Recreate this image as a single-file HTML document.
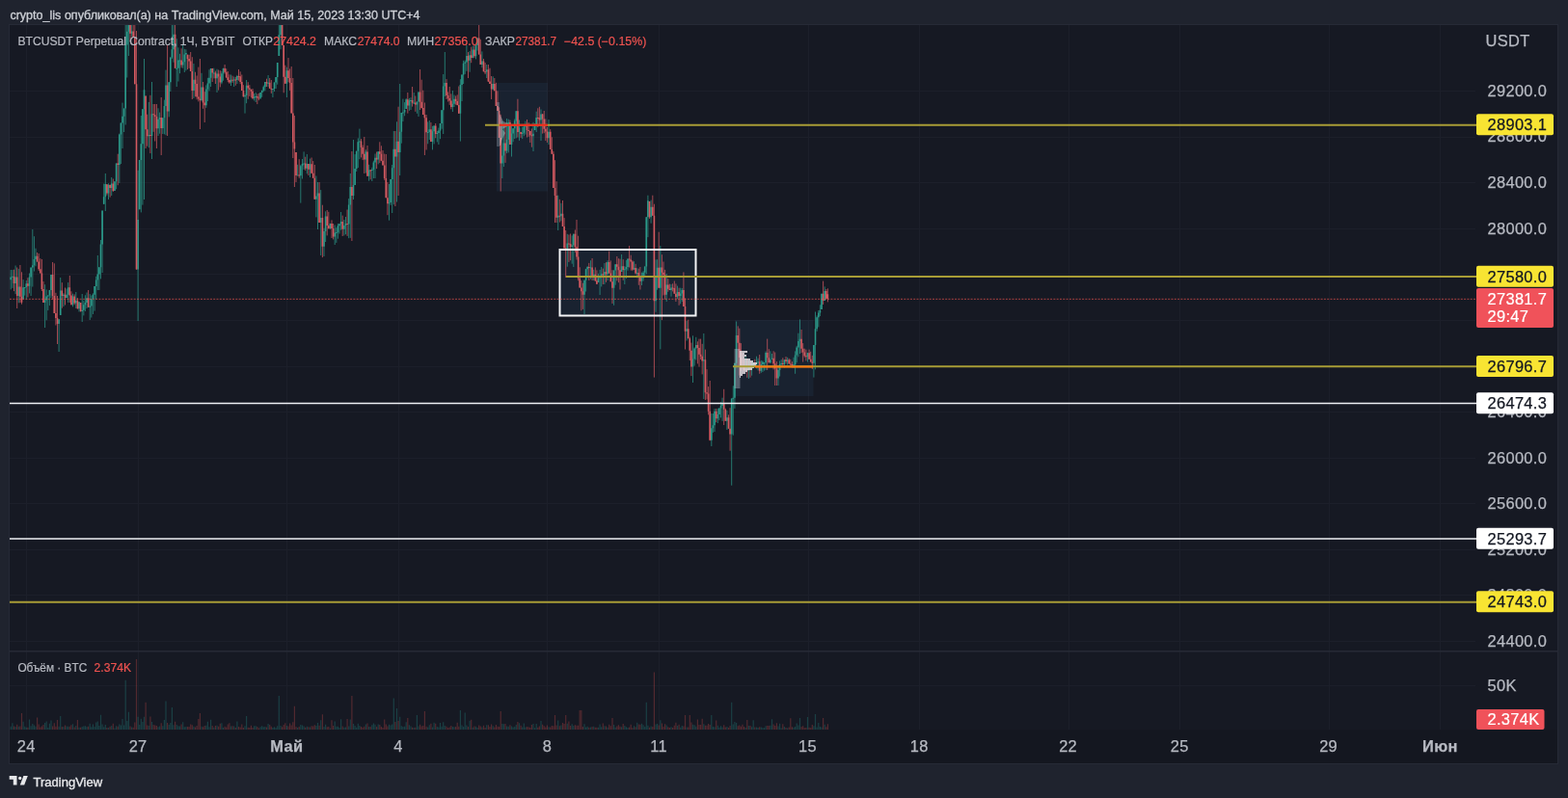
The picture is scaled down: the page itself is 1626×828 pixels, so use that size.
<!DOCTYPE html><html><head><meta charset="utf-8"><title>BTCUSDT</title><style>html,body{margin:0;padding:0;width:1626px;height:828px;overflow:hidden;background:#1f232e}svg{display:block}</style></head><body><svg width="1626" height="828" viewBox="0 0 1626 828"><rect x="0" y="0" width="1626" height="828" fill="#1f232e"/>
<rect x="9.5" y="25.5" width="1606" height="767" fill="#161923" stroke="#262a36"/>
<rect x="10" y="757.5" width="1605" height="34.5" fill="#141720"/>
<path d="M10 94.5H1530M10 142.5H1530M10 189.5H1530M10 237.5H1530M10 284.5H1530M10 332.5H1530M10 380.5H1530M10 427.5H1530M10 475.5H1530M10 522.5H1530M10 570.5H1530M10 617.5H1530M10 665.5H1530M27.5 26V757M143.5 26V757M297.5 26V757M413.5 26V757M567.5 26V757M683.5 26V757M838.5 26V757M953.5 26V757M1108.5 26V757M1223.5 26V757M1378.5 26V757M1493.5 26V757M10 711.5H1530" stroke="#1c1f2a" stroke-width="1"/>
<path d="M10 675.8H1615" stroke="#262a36" stroke-width="1.5"/>
<rect x="515" y="86" width="53" height="112.5" fill="#3f7aa8" fill-opacity="0.10"/><rect x="762" y="332" width="81.5" height="79" fill="#3f7aa8" fill-opacity="0.10"/><rect x="580.5" y="259" width="141" height="68.5" fill="#3f7aa8" fill-opacity="0.10"/>
<clipPath id="cp"><rect x="10" y="26" width="1510" height="649"/></clipPath>
<g clip-path="url(#cp)"><path d="M11.2 280.0V300.4M12.9 280.0V298.9M16.1 275.5V305.1M19.3 278.9V314.3M24.1 290.1V310.4M25.7 298.1V306.6M27.3 291.0V310.7M30.5 283.5V304.4M32.1 277.6V307.0M33.8 238.0V297.5M35.4 245.2V281.5M37.0 257.7V276.3M46.6 295.2V340.0M48.2 300.5V332.3M49.8 306.4V322.1M51.4 300.9V317.1M53.0 285.1V309.1M61.1 331.3V365.0M62.7 288.0V327.0M65.9 304.2V318.1M69.1 299.5V309.3M70.7 293.1V314.0M75.5 304.7V318.3M78.8 303.0V320.0M82.0 313.2V323.5M85.2 305.0V334.0M86.8 311.8V327.4M88.4 306.3V323.0M90.0 303.5V320.1M93.2 305.1V332.0M94.8 306.6V329.5M96.4 304.3V326.0M98.1 297.0V322.6M99.7 286.8V310.5M101.3 265.0V301.0M102.9 277.3V301.0M104.5 249.0V289.4M106.1 218.6V283.0M107.7 190.6V211.8M109.3 180.0V219.0M112.5 190.3V207.0M115.7 184.0V203.0M118.9 188.3V197.9M120.6 169.5V196.3M123.8 138.6V190.0M125.4 127.6V170.0M127.0 106.6V154.0M128.6 112.5V137.0M130.2 20.0V129.5M131.8 20.0V80.5M133.4 20.0V58.0M136.6 23.9V37.8M143.1 176.8V333.0M144.7 166.0V217.3M146.3 120.0V220.4M147.9 113.2V212.6M149.5 61.0V207.0M154.3 105.9V153.2M157.5 85.0V165.0M164.0 112.3V141.0M165.6 116.6V138.7M168.8 122.3V139.0M170.4 103.6V139.3M172.0 72.6V140.3M175.2 85.3V121.4M176.8 59.5V95.0M178.4 20.0V60.9M180.0 20.0V64.7M183.2 40.1V90.0M184.9 49.3V84.5M186.5 55.8V76.2M189.7 47.0V70.7M191.3 50.8V75.0M192.9 51.3V73.3M200.9 66.0V102.0M209.0 75.8V105.2M213.8 88.4V111.9M215.4 80.8V105.0M217.0 72.3V94.4M218.6 71.0V90.0M221.8 70.7V81.4M225.0 71.7V96.0M229.9 73.9V87.3M231.5 70.6V83.7M239.5 77.5V89.0M242.7 79.6V90.0M245.9 77.9V87.0M254.0 97.3V117.6M255.6 83.0V107.2M263.6 97.1V104.4M265.2 96.0V106.0M270.1 95.9V103.0M271.7 93.8V100.8M273.3 88.6V95.3M274.9 85.0V94.3M278.1 78.0V90.2M282.9 92.0V101.0M284.5 85.5V95.0M286.1 80.0V92.0M287.7 65.0V87.7M289.3 20.0V58.0M291.0 20.0V51.2M297.4 69.7V101.0M308.6 170.8V181.7M311.8 170.9V210.6M313.5 165.0V185.5M315.1 157.4V176.0M318.3 160.0V180.3M321.5 164.6V184.0M327.9 182.5V225.4M329.5 189.0V238.0M332.7 197.1V265.0M336.0 236.7V266.0M337.6 219.3V251.0M342.4 231.7V237.7M347.2 233.5V254.0M348.8 236.2V251.9M350.4 232.0V247.7M352.0 232.3V242.5M353.6 220.0V238.7M356.9 228.0V244.4M358.5 225.0V243.2M361.7 206.1V247.2M363.3 180.0V246.9M366.5 145.0V207.0M368.1 160.1V191.9M369.7 156.7V178.0M371.3 143.4V174.0M372.9 133.6V165.2M379.4 155.3V179.5M382.6 170.8V187.7M385.8 173.8V188.0M387.4 166.7V185.0M389.0 159.5V185.0M392.2 157.3V170.4M403.5 191.0V228.7M405.1 185.9V212.8M406.7 171.0V221.0M408.3 136.0V212.2M411.5 126.3V209.5M414.7 87.0V182.1M416.3 116.9V148.7M417.9 102.6V126.1M419.6 106.1V120.3M421.2 102.1V113.0M424.4 101.9V114.9M426.0 101.2V114.0M429.2 96.0V107.9M432.4 105.6V117.8M434.0 95.5V121.0M443.7 126.4V149.3M445.3 125.0V145.0M448.5 130.8V155.4M450.1 130.3V149.4M453.3 135.9V147.4M454.9 132.6V150.0M456.5 128.0V144.2M458.1 114.3V133.7M459.7 77.0V139.0M461.3 54.0V100.0M469.4 94.0V116.0M471.0 98.5V111.1M477.4 82.2V146.6M479.0 77.4V105.0M480.6 62.8V87.0M482.2 62.6V76.9M483.9 47.0V73.8M487.1 53.1V74.7M490.3 47.7V60.4M493.5 47.0V61.4M495.1 39.3V52.5M499.9 53.4V70.2M504.7 67.0V81.0M511.2 79.3V93.5M520.8 125.8V185.0M522.4 129.2V173.0M525.6 123.0V159.1M527.3 123.7V158.4M530.5 130.5V162.5M532.1 133.3V147.2M533.7 123.5V144.0M535.3 115.2V143.3M538.5 124.5V145.9M541.7 131.7V144.1M543.3 129.5V141.2M544.9 125.7V139.6M553.0 126.8V157.0M554.6 128.1V135.1M556.2 115.7V137.0M561.0 113.5V146.0M569.0 124.0V150.1M578.7 202.7V239.0M581.9 210.8V229.3M588.3 242.8V276.7M593.2 244.4V273.7M594.8 242.6V277.0M606.0 290.7V326.0M607.6 278.8V302.5M609.2 276.2V288.4M612.5 270.2V289.6M615.7 279.8V291.0M620.5 283.8V293.0M622.1 279.9V306.0M623.7 277.0V297.4M626.9 273.0V295.0M630.1 270.2V291.0M636.6 280.6V316.8M638.2 274.3V295.7M644.6 264.0V281.9M647.8 276.2V295.0M649.4 269.9V289.0M651.0 268.6V280.7M657.5 271.2V279.7M660.7 278.3V288.3M665.5 282.7V296.0M667.1 281.1V291.6M668.7 276.5V288.0M670.3 225.3V284.4M671.9 202.7V246.1M675.1 207.6V231.7M680.0 269.4V323.8M681.6 269.2V300.7M684.8 255.1V362.4M691.2 284.0V313.0M696.0 294.9V307.7M702.5 296.6V310.2M705.7 298.7V315.3M707.3 299.0V313.0M712.1 332.8V353.5M718.5 348.3V397.0M720.2 360.4V379.6M721.8 349.8V373.5M729.8 346.0V414.0M737.8 429.0V463.0M739.4 429.0V448.8M741.0 424.0V448.0M744.3 423.8V439.0M745.9 423.4V436.1M747.5 417.2V433.4M749.1 412.7V436.9M753.9 425.8V446.0M758.7 413.5V503.7M760.3 400.3V451.7M761.9 376.8V423.9M763.6 333.5V381.4M773.2 369.7V383.3M776.4 373.3V393.0M779.6 375.0V389.7M781.2 376.5V380.6M784.5 369.7V382.4M786.1 371.7V384.4M789.3 373.9V386.8M790.9 374.3V386.0M792.5 376.2V384.6M794.1 364.4V384.0M798.9 364.3V377.0M800.5 367.0V372.4M807.0 379.6V400.0M808.6 374.4V390.6M810.2 373.1V380.1M813.4 373.3V381.4M816.6 370.8V378.6M823.0 370.8V381.9M824.6 364.4V387.8M826.2 358.8V376.2M827.9 345.7V370.3M829.5 331.4V367.0M837.5 365.9V375.6M843.9 358.1V391.6M845.5 323.5V383.3M847.1 327.4V343.8M848.8 322.0V339.4M850.4 316.3V328.1M852.0 304.8V321.0M855.2 297.4V312.0" stroke="#2b9a8a" stroke-width="1" stroke-opacity="0.75"/>
<path d="M14.5 279.7V302.1M17.7 277.5V320.0M20.9 275.0V314.2M22.5 282.3V315.7M28.9 288.2V308.5M38.6 262.0V271.6M40.2 263.0V281.1M41.8 268.2V283.4M43.4 269.0V302.0M45.0 292.0V314.0M54.6 272.0V310.6M56.3 273.3V325.0M57.9 303.8V337.5M59.5 307.0V357.0M64.3 293.2V319.7M67.5 298.5V316.5M72.3 286.0V314.0M73.9 302.3V316.3M77.2 305.4V316.3M80.4 309.1V320.6M83.6 314.1V323.6M91.6 301.0V318.7M110.9 191.2V202.6M114.1 191.4V204.7M117.3 185.5V199.0M122.2 159.7V192.2M135.0 20.0V43.4M138.2 20.0V39.0M139.8 20.0V87.3M141.5 32.0V279.6M151.1 99.6V154.0M152.7 118.7V151.7M155.9 98.8V159.1M159.1 108.0V136.8M160.7 108.0V146.5M162.4 108.0V154.0M167.2 101.0V161.0M173.6 47.0V141.0M181.6 24.5V70.7M188.1 50.3V70.3M194.5 56.7V72.1M196.1 56.8V70.9M197.7 54.0V74.0M199.3 59.2V103.0M202.5 74.7V100.3M204.1 78.5V103.3M205.8 69.6V105.4M207.4 61.0V134.0M210.6 85.0V112.8M212.2 95.2V127.0M220.2 70.9V85.0M223.4 73.6V87.0M226.6 72.5V93.6M228.3 73.2V90.4M233.1 67.0V76.5M234.7 71.2V81.0M236.3 74.0V85.3M237.9 77.3V86.9M241.1 78.6V85.8M244.3 79.8V88.7M247.5 72.0V83.7M249.2 74.3V87.2M250.8 77.5V94.0M252.4 88.2V100.7M257.2 85.2V102.8M258.8 88.2V99.9M260.4 92.8V101.3M262.0 92.0V103.2M266.8 97.5V108.1M268.4 96.8V104.2M276.5 81.7V90.0M279.7 81.0V91.8M281.3 83.0V96.9M292.6 20.0V47.0M294.2 47.0V96.3M295.8 67.7V86.8M299.0 60.0V85.1M300.6 71.4V93.9M302.2 69.0V117.4M303.8 81.0V164.0M305.4 120.0V194.0M307.0 158.0V189.0M310.2 165.2V184.8M316.7 162.7V176.9M319.9 170.1V182.0M323.1 163.5V180.2M324.7 167.1V184.7M326.3 171.0V206.7M331.1 189.0V230.9M334.4 212.7V267.1M339.2 218.0V244.4M340.8 219.8V237.2M344.0 228.4V247.0M345.6 232.0V248.4M355.2 223.6V245.0M360.1 217.5V244.9M364.9 157.0V250.0M374.5 144.1V163.4M376.1 150.6V166.1M377.8 142.0V180.0M381.0 151.0V182.7M384.2 176.0V186.3M390.6 157.5V175.1M393.8 147.3V169.1M395.4 151.3V167.2M397.0 156.0V171.4M398.7 159.6V186.9M400.3 160.0V205.2M401.9 189.0V223.2M409.9 136.0V214.0M413.1 110.7V203.0M422.8 96.0V117.6M427.6 90.0V110.6M430.8 99.5V115.8M435.6 72.0V114.0M437.2 82.7V112.6M438.8 93.7V119.0M440.4 106.5V161.0M442.1 119.0V155.5M446.9 127.0V147.1M451.7 128.0V143.3M463.0 82.1V103.0M464.6 95.4V105.5M466.2 90.0V108.9M467.8 97.4V113.3M472.6 99.5V108.6M474.2 98.4V109.4M475.8 89.5V117.8M485.5 54.1V81.0M488.7 48.7V65.2M491.9 47.0V60.2M496.7 20.0V56.5M498.3 40.9V67.0M501.5 61.0V74.3M503.1 65.0V77.1M506.4 67.0V85.0M508.0 70.7V86.9M509.6 79.0V103.0M512.8 81.0V94.2M514.4 85.8V110.0M516.0 94.4V114.9M517.6 111.3V143.0M519.2 118.8V198.5M524.0 128.5V168.9M528.9 124.6V150.0M536.9 102.7V142.5M540.1 136.9V142.9M546.5 124.0V142.5M548.2 127.0V141.9M549.8 135.7V148.0M551.4 133.5V152.7M557.8 112.3V132.1M559.4 110.8V130.2M562.6 118.0V138.6M564.2 115.0V138.2M565.8 123.4V146.0M567.4 132.0V147.9M570.7 134.1V155.0M572.3 142.3V159.8M573.9 157.1V195.0M575.5 166.2V231.0M577.1 188.2V231.1M580.3 206.8V230.6M583.5 208.0V235.0M585.1 226.1V257.5M586.7 239.0V288.0M589.9 243.5V271.9M591.6 242.5V270.2M596.4 238.5V261.8M598.0 228.0V269.5M599.6 244.7V291.2M601.2 277.3V298.5M602.8 291.0V322.3M604.4 293.7V320.9M610.8 272.9V291.0M614.1 268.0V291.0M617.3 277.4V292.0M618.9 280.4V295.0M625.3 278.6V295.0M628.5 272.2V292.8M631.7 260.6V283.5M633.3 270.4V292.3M635.0 280.2V315.0M639.8 266.0V291.3M641.4 268.2V293.2M643.0 268.6V300.5M646.2 269.2V290.8M652.6 255.0V277.5M654.2 264.7V280.6M655.9 270.2V281.1M659.1 273.8V284.7M662.3 278.7V295.8M663.9 277.0V300.5M673.5 208.9V226.9M676.8 202.7V223.7M678.4 211.7V391.6M683.2 240.7V298.7M686.4 264.2V332.1M688.0 271.5V306.5M689.6 279.9V310.7M692.8 289.2V302.8M694.4 294.6V300.9M697.6 294.3V302.4M699.3 291.5V304.7M700.9 294.4V313.0M704.1 298.7V316.8M708.9 282.4V318.0M710.5 309.4V362.5M713.7 331.7V351.2M715.3 349.7V374.1M716.9 355.6V390.1M723.4 354.3V377.4M725.0 351.6V380.6M726.6 351.6V373.0M728.2 356.8V388.4M731.4 362.6V415.0M733.0 383.2V414.4M734.6 401.1V430.4M736.2 395.0V457.3M742.7 424.0V438.2M750.7 403.8V441.0M752.3 423.7V436.7M755.5 430.4V444.7M757.1 423.2V467.7M765.2 338.4V379.7M766.8 340.7V389.6M768.4 356.1V384.8M770.0 366.3V382.8M771.6 372.5V384.3M774.8 372.0V391.8M778.0 373.9V391.7M782.8 372.7V380.9M787.7 368.0V387.8M795.7 351.6V384.0M797.3 362.2V376.3M802.1 364.3V383.4M803.7 365.5V400.0M805.4 375.1V400.0M811.8 371.3V379.7M815.0 370.0V377.2M818.2 371.9V377.4M819.8 372.8V378.7M821.4 375.2V381.4M831.1 342.0V366.2M832.7 356.1V375.6M834.3 361.7V370.7M835.9 362.6V374.4M839.1 362.6V372.9M840.7 364.8V375.6M842.3 368.9V383.0M853.6 291.6V316.0M856.8 300.0V310.6M858.4 299.3V313.4" stroke="#d45a61" stroke-width="1" stroke-opacity="0.75"/>
<path d="M11.2 287.6V290.2M12.9 286.8V287.8M16.1 287.5V294.1M19.3 297.4V307.1M24.1 298.3V310.4M25.7 298.1V299.1M27.3 294.2V298.1M30.5 287.4V296.8M32.1 277.6V287.4M33.8 275.3V277.6M35.4 269.0V275.3M37.0 265.8V269.0M46.6 311.5V314.0M48.2 307.5V311.5M49.8 306.4V307.5M51.4 300.9V306.4M53.0 285.1V300.9M61.1 331.3V336.0M62.7 301.5V327.0M65.9 305.7V306.9M69.1 305.7V308.9M70.7 298.3V305.7M75.5 307.5V316.3M78.8 311.7V314.4M82.0 313.2V320.2M85.2 321.7V323.1M86.8 316.2V321.7M88.4 314.0V316.2M90.0 309.2V314.0M93.2 317.6V318.7M94.8 310.1V317.6M96.4 305.8V310.1M98.1 297.0V305.8M99.7 290.5V297.0M101.3 284.4V290.5M102.9 277.3V284.4M104.5 253.6V277.3M106.1 218.6V253.6M107.7 204.3V211.8M109.3 190.9V204.3M112.5 192.0V200.6M115.7 190.4V194.9M118.9 188.3V197.9M120.6 169.5V188.3M123.8 139.5V171.0M125.4 127.6V139.5M127.0 120.7V127.6M128.6 112.5V120.7M130.2 46.4V112.5M131.8 32.8V46.4M133.4 21.1V32.8M136.6 32.5V34.8M143.1 227.9V279.6M144.7 166.0V217.3M146.3 149.2V166.0M147.9 113.2V149.2M149.5 93.3V113.2M154.3 140.1V141.2M157.5 118.3V141.0M164.0 123.7V133.3M165.6 122.0V123.7M168.8 122.3V132.9M170.4 109.9V122.3M172.0 88.5V109.9M175.2 85.3V115.4M176.8 59.5V85.3M178.4 51.2V59.5M180.0 35.8V51.2M183.2 70.7V71.7M184.9 62.5V70.7M186.5 62.4V63.4M189.7 64.2V67.4M191.3 56.5V64.2M192.9 55.0V56.5M200.9 82.7V94.0M209.0 90.5V104.0M213.8 92.4V109.2M215.4 86.5V92.4M217.0 80.8V86.5M218.6 71.0V80.8M221.8 75.6V76.6M225.0 76.6V81.2M229.9 76.2V85.5M231.5 71.0V76.2M239.5 82.7V85.4M242.7 82.6V83.6M245.9 78.9V82.9M254.0 99.1V100.3M255.6 88.7V99.1M263.6 100.6V102.0M265.2 100.1V101.1M270.1 95.9V101.8M271.7 93.8V95.9M273.3 90.3V93.8M274.9 85.0V90.3M278.1 85.7V86.7M282.9 92.0V93.0M284.5 85.5V92.0M286.1 80.0V85.5M287.7 65.0V80.0M289.3 36.3V58.0M291.0 25.8V36.3M297.4 73.2V86.8M308.6 181.6V182.6M311.8 172.2V182.3M313.5 169.9V172.2M315.1 169.4V170.4M318.3 169.9V174.8M321.5 170.2V175.8M327.9 203.6V206.7M329.5 200.6V203.6M332.7 226.0V230.9M336.0 240.0V255.8M337.6 224.4V240.0M342.4 231.9V237.2M347.2 241.4V245.5M348.8 240.9V241.9M350.4 234.3V240.9M352.0 232.3V234.3M353.6 230.0V232.3M356.9 234.1V237.7M358.5 232.0V234.1M361.7 212.5V232.4M363.3 194.0V212.5M366.5 192.1V203.0M368.1 175.1V191.9M369.7 156.7V175.1M371.3 147.2V156.7M372.9 146.6V147.6M379.4 157.4V165.5M382.6 176.6V182.7M385.8 176.1V177.1M387.4 168.5V176.1M389.0 163.7V168.5M392.2 157.3V165.5M403.5 209.9V211.3M405.1 185.9V209.9M406.7 174.2V185.9M408.3 154.7V174.2M411.5 146.8V162.6M414.7 136.7V158.1M416.3 116.9V136.7M417.9 116.5V117.5M419.6 113.9V116.5M421.2 103.3V113.0M424.4 104.3V109.4M426.0 103.9V104.9M429.2 106.4V107.4M432.4 105.6V108.5M434.0 95.5V105.6M443.7 137.0V138.0M445.3 134.2V137.0M448.5 136.3V147.0M450.1 130.5V136.3M453.3 137.9V138.9M454.9 135.6V137.9M456.5 128.0V135.6M458.1 114.3V128.0M459.7 89.5V114.3M461.3 85.9V89.5M469.4 107.8V110.9M471.0 102.7V107.8M477.4 88.0V117.8M479.0 77.4V88.0M480.6 65.7V77.4M482.2 64.4V65.7M483.9 58.0V64.4M487.1 57.2V62.7M490.3 51.5V59.9M493.5 47.0V58.2M495.1 39.6V47.0M499.9 63.5V67.0M504.7 72.2V74.6M511.2 86.9V92.5M520.8 161.5V169.5M522.4 148.6V161.5M525.6 144.8V156.4M527.3 127.1V144.8M530.5 138.5V150.0M532.1 133.3V138.5M533.7 125.4V133.3M535.3 115.2V125.4M538.5 132.4V137.1M541.7 137.7V139.1M543.3 131.4V137.7M544.9 129.8V131.4M553.0 138.8V141.3M554.6 130.1V135.1M556.2 122.1V130.1M561.0 118.6V124.6M569.0 136.8V143.2M578.7 223.7V225.7M581.9 221.8V224.3M588.3 252.5V258.2M593.2 254.5V255.9M594.8 242.7V254.5M606.0 290.7V305.8M607.6 279.3V290.7M609.2 277.0V279.3M612.5 277.4V278.4M615.7 284.8V287.4M620.5 288.4V293.0M622.1 286.6V288.4M623.7 284.2V286.6M626.9 281.9V285.4M630.1 272.1V284.5M636.6 280.6V298.7M638.2 274.3V280.6M644.6 276.2V281.9M647.8 279.3V280.3M649.4 277.1V279.3M651.0 268.6V277.1M657.5 278.0V279.7M660.7 283.1V284.1M665.5 288.5V291.7M667.1 282.8V288.5M668.7 276.5V282.8M670.3 225.3V276.5M671.9 208.3V225.3M675.1 214.7V225.3M680.0 286.9V312.2M681.6 277.8V286.9M684.8 277.5V298.7M691.2 295.6V305.8M696.0 298.5V300.9M702.5 303.0V307.9M705.7 304.4V306.9M707.3 301.1V304.4M712.1 341.2V343.7M718.5 372.4V380.6M720.2 361.5V372.4M721.8 358.0V361.5M729.8 373.3V374.4M737.8 444.3V456.7M739.4 441.3V444.3M741.0 426.8V441.3M744.3 430.0V434.2M745.9 423.4V430.0M747.5 420.9V423.4M749.1 418.2V420.9M753.9 433.3V436.7M758.7 413.5V450.4M760.3 412.8V413.8M761.9 376.8V412.8M763.6 347.9V376.8M773.2 383.3V384.3M776.4 381.0V384.8M779.6 378.5V382.5M781.2 376.5V378.5M784.5 376.6V377.6M786.1 375.3V376.6M789.3 378.1V384.7M790.9 375.6V378.1M792.5 376.2V377.2M794.1 366.1V376.2M798.9 373.3V376.3M800.5 371.7V372.7M807.0 383.9V392.4M808.6 378.1V383.9M810.2 376.9V378.1M813.4 373.3V377.9M816.6 373.5V375.0M823.0 378.3V379.3M824.6 368.6V378.3M826.2 360.4V368.6M827.9 353.9V360.4M829.5 351.7V353.9M837.5 366.2V370.3M843.9 358.1V376.7M845.5 341.2V358.1M847.1 329.2V341.2M848.8 324.5V329.2M850.4 321.9V324.5M852.0 304.8V321.0M855.2 302.0V311.9" stroke="#2b9a8a" stroke-width="1.6"/>
<path d="M14.5 286.8V294.1M17.7 287.5V307.1M20.9 297.4V307.7M22.5 307.7V313.7M28.9 294.2V296.8M38.6 265.8V271.6M40.2 271.6V279.3M41.8 279.3V283.4M43.4 283.4V299.9M45.0 299.9V314.0M54.6 285.1V307.0M56.3 307.0V325.0M57.9 325.0V330.1M59.5 330.1V336.0M64.3 301.5V306.9M67.5 305.7V308.9M72.3 298.3V306.4M73.9 306.4V316.3M77.2 307.5V314.4M80.4 311.7V320.2M83.6 314.1V323.1M91.6 309.2V318.7M110.9 191.2V200.6M114.1 192.0V194.9M117.3 190.4V197.9M122.2 169.5V171.0M135.0 21.1V34.8M138.2 32.5V39.0M139.8 39.0V87.3M141.5 87.3V279.6M151.1 99.6V134.3M152.7 134.3V141.2M155.9 140.1V141.1M159.1 118.3V119.3M160.7 119.3V121.1M162.4 121.1V133.3M167.2 122.0V132.9M173.6 88.5V115.4M181.6 35.8V70.7M188.1 62.4V67.4M194.5 56.7V61.1M196.1 61.1V63.6M197.7 63.6V74.0M199.3 74.0V94.0M202.5 82.7V86.9M204.1 86.9V100.6M205.8 100.6V102.6M207.4 102.6V104.0M210.6 90.5V106.6M212.2 106.6V109.2M220.2 71.0V75.6M223.4 75.6V81.2M226.6 76.6V79.4M228.3 79.4V85.5M233.1 71.0V74.8M234.7 74.8V80.2M236.3 80.2V82.9M237.9 82.9V85.4M241.1 82.7V83.7M244.3 82.6V83.6M247.5 78.9V79.9M249.2 79.3V85.1M250.8 85.1V94.0M252.4 94.0V100.3M257.2 88.7V91.5M258.8 91.5V92.8M260.4 92.8V94.7M262.0 94.7V102.0M266.8 100.1V101.5M268.4 101.5V102.5M276.5 85.0V86.5M279.7 85.7V91.8M281.3 91.8V92.8M292.6 25.8V47.0M294.2 47.0V79.7M295.8 79.7V86.8M299.0 73.2V81.1M300.6 81.1V86.0M302.2 86.0V117.4M303.8 117.4V147.4M305.4 147.4V154.5M307.0 158.0V182.0M310.2 181.6V182.6M316.7 169.4V174.8M319.9 170.1V175.8M323.1 170.2V179.8M324.7 179.8V184.7M326.3 184.7V206.7M331.1 200.6V230.9M334.4 226.0V255.8M339.2 224.4V234.0M340.8 234.0V237.2M344.0 231.9V236.9M345.6 236.9V245.5M355.2 230.0V237.7M360.1 232.0V233.0M364.9 194.0V203.0M374.5 146.6V153.1M376.1 153.1V159.7M377.8 159.7V165.5M381.0 157.4V182.7M384.2 176.6V177.6M390.6 163.7V165.5M393.8 157.3V159.7M395.4 159.7V166.8M397.0 166.8V171.4M398.7 171.4V185.0M400.3 185.0V205.2M401.9 205.2V211.3M409.9 154.7V162.6M413.1 146.8V158.1M422.8 103.3V109.4M427.6 103.9V106.8M430.8 106.4V108.5M435.6 95.5V105.8M437.2 105.8V112.1M438.8 112.1V119.0M440.4 119.0V122.3M442.1 122.3V137.3M446.9 134.2V147.0M451.7 130.5V138.9M463.0 85.9V99.0M464.6 99.0V102.1M466.2 102.1V104.4M467.8 104.4V110.9M472.6 102.7V105.1M474.2 105.1V108.9M475.8 108.9V117.8M485.5 58.0V62.7M488.7 57.2V59.9M491.9 51.5V58.2M496.7 39.6V56.5M498.3 56.5V67.0M501.5 63.5V74.2M503.1 74.2V75.2M506.4 72.2V84.5M508.0 84.5V86.9M509.6 86.9V92.5M512.8 86.9V94.2M514.4 94.2V110.0M516.0 110.0V114.9M517.6 114.9V143.0M519.2 143.0V169.5M524.0 148.6V156.4M528.9 127.1V150.0M536.9 115.2V137.1M540.1 136.9V139.1M546.5 129.8V135.0M548.2 135.0V136.0M549.8 136.0V140.3M551.4 140.3V141.3M557.8 122.1V123.1M559.4 122.3V124.6M562.6 118.6V123.5M564.2 123.5V133.7M565.8 133.7V136.6M567.4 136.6V143.2M570.7 136.8V155.0M572.3 155.0V159.8M573.9 159.8V195.0M575.5 195.0V203.1M577.1 203.1V225.7M580.3 223.7V224.7M583.5 221.8V235.0M585.1 235.0V257.5M586.7 257.5V258.5M589.9 252.5V253.5M591.6 253.0V255.9M596.4 242.7V256.3M598.0 256.3V266.4M599.6 266.4V288.8M601.2 288.8V298.5M602.8 298.5V302.3M604.4 302.3V305.8M610.8 277.0V278.1M614.1 277.4V287.4M617.3 284.8V291.2M618.9 291.2V294.8M625.3 284.2V285.4M628.5 281.9V284.5M631.7 272.1V283.5M633.3 283.5V292.3M635.0 292.3V298.7M639.8 274.3V276.7M641.4 276.7V280.2M643.0 280.2V286.5M646.2 276.2V280.0M652.6 268.6V269.6M654.2 269.4V271.6M655.9 271.6V279.8M659.1 278.0V283.6M662.3 283.1V286.5M663.9 286.5V291.7M673.5 208.9V225.3M676.8 214.7V223.7M678.4 223.7V312.2M683.2 277.8V298.7M686.4 277.5V282.8M688.0 282.8V285.2M689.6 285.2V305.8M692.8 295.6V299.8M694.4 299.8V300.9M697.6 298.5V299.5M699.3 298.9V304.7M700.9 304.7V307.9M704.1 303.0V306.9M708.9 301.1V318.0M710.5 318.0V343.7M713.7 341.2V351.2M715.3 351.2V363.8M716.9 363.8V380.6M723.4 358.0V361.1M725.0 361.1V367.7M726.6 367.7V369.7M728.2 369.7V374.4M731.4 373.3V407.2M733.0 407.2V408.4M734.6 408.4V426.7M736.2 426.7V456.7M742.7 426.8V434.2M750.7 418.2V424.7M752.3 424.7V436.7M755.5 433.3V444.7M757.1 444.7V450.4M765.2 347.9V355.7M766.8 355.7V371.1M768.4 371.1V379.8M770.0 379.8V381.1M771.6 381.1V384.3M774.8 383.3V384.8M778.0 381.0V382.5M782.8 376.5V377.5M787.7 375.3V384.7M795.7 366.1V371.3M797.3 371.3V376.3M802.1 371.7V377.3M803.7 377.3V382.5M805.4 382.5V392.4M811.8 376.9V377.9M815.0 373.3V375.0M818.2 373.5V377.4M819.8 377.4V378.4M821.4 378.0V379.0M831.1 351.7V361.7M832.7 361.7V365.6M834.3 365.6V369.2M835.9 369.2V370.3M839.1 366.2V372.7M840.7 372.7V375.6M842.3 375.6V376.7M853.6 304.8V311.9M856.8 302.0V309.8M858.4 305.2V310.3" stroke="#d45a61" stroke-width="1.6"/><rect x="761.5" y="362" width="6" height="41" fill="#c8cfdc" fill-opacity="0.35"/><path d="M767,364 H775 V366 H772 V368 H774 V370 H772 V372 H778 V374 H781 V376 H785 V378 H784 V380 H782 V382 H780 V384 H775 V386 H773 V388 H770 V390 H768 V392 H767 Z" fill="#ece6ea" fill-opacity="0.8"/><rect x="515" y="106" width="3" height="46" fill="#c8cfdc" fill-opacity="0.25"/><path d="M518,118 L520,122 L522,126 L527,128 L526,131 L521,134 L524,138 L522,142 L520,146 L519,151 L518,151 Z" fill="#e4e4ea" fill-opacity="0.35"/></g>
<rect x="580.5" y="259" width="141" height="68.5" fill="none" stroke="#f4f5f7" stroke-width="2"/>
<path d="M11.2 757V753.7M12.9 757V750.2M16.1 757V753.9M19.3 757V753.7M24.1 757V748.8M25.7 757V753.8M27.3 757V754.8M30.5 757V746.5M32.1 757V753.2M33.8 757V751.1M35.4 757V752.6M37.0 757V753.8M46.6 757V749.9M48.2 757V748.4M49.8 757V755.1M51.4 757V750.7M53.0 757V747.5M61.1 757V753.8M62.7 757V743.1M65.9 757V754.1M69.1 757V753.6M70.7 757V753.8M75.5 757V751.3M78.8 757V753.1M82.0 757V754.8M85.2 757V754.1M86.8 757V753.5M88.4 757V753.3M90.0 757V753.9M93.2 757V750.8M94.8 757V754.3M96.4 757V751.6M98.1 757V754.1M99.7 757V749.5M101.3 757V748.4M102.9 757V752.9M104.5 757V741.7M106.1 757V751.6M107.7 757V754.2M109.3 757V752.0M112.5 757V754.9M115.7 757V753.1M118.9 757V755.4M120.6 757V753.3M123.8 757V751.4M125.4 757V752.6M127.0 757V746.1M128.6 757V752.4M130.2 757V705.7M131.8 757V748.0M133.4 757V738.7M136.6 757V754.5M143.1 757V743.8M144.7 757V752.1M146.3 757V745.8M147.9 757V749.1M149.5 757V743.7M154.3 757V753.0M157.5 757V748.9M164.0 757V754.2M165.6 757V753.5M168.8 757V753.3M170.4 757V746.9M172.0 757V727.4M175.2 757V751.9M176.8 757V749.9M178.4 757V734.0M180.0 757V752.3M183.2 757V752.1M184.9 757V753.2M186.5 757V753.5M189.7 757V749.2M191.3 757V754.2M192.9 757V754.1M200.9 757V753.8M209.0 757V753.7M213.8 757V752.7M215.4 757V748.8M217.0 757V754.3M218.6 757V746.7M221.8 757V754.8M225.0 757V752.8M229.9 757V750.3M231.5 757V755.0M239.5 757V753.4M242.7 757V753.5M245.9 757V748.4M254.0 757V753.3M255.6 757V742.9M263.6 757V753.2M265.2 757V753.3M270.1 757V754.2M271.7 757V753.2M273.3 757V754.3M274.9 757V754.0M278.1 757V751.1M282.9 757V755.1M284.5 757V754.2M286.1 757V755.2M287.7 757V753.3M289.3 757V722.0M291.0 757V752.9M297.4 757V753.0M308.6 757V754.9M311.8 757V751.9M313.5 757V752.4M315.1 757V753.6M318.3 757V753.7M321.5 757V754.5M327.9 757V752.9M329.5 757V750.1M332.7 757V747.3M336.0 757V754.0M337.6 757V751.8M342.4 757V755.4M347.2 757V748.6M348.8 757V753.8M350.4 757V753.8M352.0 757V755.0M353.6 757V746.3M356.9 757V754.7M358.5 757V754.5M361.7 757V753.4M363.3 757V746.5M366.5 757V751.1M368.1 757V753.1M369.7 757V754.7M371.3 757V750.8M372.9 757V753.0M379.4 757V751.6M382.6 757V754.1M385.8 757V752.2M387.4 757V750.5M389.0 757V751.8M392.2 757V751.4M403.5 757V751.8M405.1 757V752.4M406.7 757V751.6M408.3 757V724.6M411.5 757V735.0M414.7 757V743.8M416.3 757V753.2M417.9 757V754.1M419.6 757V753.7M421.2 757V749.2M424.4 757V752.2M426.0 757V753.6M429.2 757V755.0M432.4 757V742.0M434.0 757V753.5M443.7 757V754.5M445.3 757V752.3M448.5 757V754.4M450.1 757V749.7M453.3 757V754.1M454.9 757V754.5M456.5 757V750.0M458.1 757V753.7M459.7 757V749.2M461.3 757V753.0M469.4 757V754.1M471.0 757V754.3M477.4 757V737.0M479.0 757V752.6M480.6 757V754.0M482.2 757V739.5M483.9 757V752.6M487.1 757V747.7M490.3 757V754.7M493.5 757V753.7M495.1 757V755.1M499.9 757V754.6M504.7 757V752.2M511.2 757V753.2M520.8 757V751.0M522.4 757V751.3M525.6 757V753.4M527.3 757V753.8M530.5 757V753.5M532.1 757V754.4M533.7 757V753.9M535.3 757V752.1M538.5 757V750.3M541.7 757V754.6M543.3 757V750.4M544.9 757V754.6M553.0 757V750.9M554.6 757V755.2M556.2 757V750.9M561.0 757V747.9M569.0 757V754.3M578.7 757V747.6M581.9 757V752.6M588.3 757V750.7M593.2 757V751.3M594.8 757V753.0M606.0 757V751.2M607.6 757V754.5M609.2 757V753.7M612.5 757V754.5M615.7 757V753.7M620.5 757V754.8M622.1 757V751.4M623.7 757V754.2M626.9 757V753.3M630.1 757V754.7M636.6 757V751.9M638.2 757V754.7M644.6 757V754.2M647.8 757V753.0M649.4 757V754.3M651.0 757V755.0M657.5 757V753.2M660.7 757V749.8M665.5 757V750.7M667.1 757V752.2M668.7 757V753.9M670.3 757V728.7M671.9 757V752.7M675.1 757V753.4M680.0 757V751.6M681.6 757V750.9M684.8 757V747.3M691.2 757V752.5M696.0 757V754.3M702.5 757V752.9M705.7 757V754.7M707.3 757V753.1M712.1 757V754.6M718.5 757V751.8M720.2 757V752.2M721.8 757V753.7M729.8 757V751.2M737.8 757V742.0M739.4 757V754.0M741.0 757V754.3M744.3 757V752.8M745.9 757V754.8M747.5 757V753.3M749.1 757V754.4M753.9 757V754.0M758.7 757V728.7M760.3 757V751.4M761.9 757V748.9M763.6 757V750.1M773.2 757V755.1M776.4 757V752.9M779.6 757V754.3M781.2 757V747.2M784.5 757V754.4M786.1 757V754.9M789.3 757V754.5M790.9 757V755.2M792.5 757V755.2M794.1 757V753.2M798.9 757V752.7M800.5 757V746.3M807.0 757V753.4M808.6 757V750.8M810.2 757V755.5M813.4 757V753.9M816.6 757V755.4M823.0 757V754.7M824.6 757V754.1M826.2 757V750.6M827.9 757V752.6M829.5 757V745.0M837.5 757V744.0M843.9 757V753.2M845.5 757V741.1M847.1 757V754.4M848.8 757V750.1M850.4 757V754.1M852.0 757V754.4M855.2 757V751.8" stroke="#26a69a" stroke-width="1.2" stroke-opacity="0.28"/><path d="M14.5 757V753.4M17.7 757V751.7M20.9 757V753.5M22.5 757V740.0M28.9 757V754.7M38.6 757V744.5M40.2 757V751.6M41.8 757V754.4M43.4 757V753.4M45.0 757V752.1M54.6 757V753.5M56.3 757V750.2M57.9 757V753.8M59.5 757V747.0M64.3 757V754.1M67.5 757V752.6M72.3 757V753.8M73.9 757V752.2M77.2 757V754.4M80.4 757V747.1M83.6 757V754.7M91.6 757V753.7M110.9 757V755.0M114.1 757V753.7M117.3 757V750.7M122.2 757V753.7M135.0 757V753.4M138.2 757V754.7M139.8 757V749.6M141.5 757V684.0M151.1 757V728.7M152.7 757V752.4M155.9 757V743.4M159.1 757V751.9M160.7 757V752.6M162.4 757V753.1M167.2 757V750.2M173.6 757V750.0M181.6 757V748.8M188.1 757V751.4M194.5 757V754.1M196.1 757V753.9M197.7 757V751.5M199.3 757V752.3M202.5 757V754.4M204.1 757V753.0M205.8 757V745.9M207.4 757V739.9M210.6 757V754.2M212.2 757V753.0M220.2 757V752.9M223.4 757V753.0M226.6 757V753.8M228.3 757V750.7M233.1 757V753.7M234.7 757V754.6M236.3 757V751.5M237.9 757V750.2M241.1 757V753.3M244.3 757V755.0M247.5 757V753.9M249.2 757V754.5M250.8 757V751.5M252.4 757V755.1M257.2 757V754.8M258.8 757V755.0M260.4 757V752.7M262.0 757V755.0M266.8 757V754.1M268.4 757V755.4M276.5 757V754.6M279.7 757V751.9M281.3 757V753.8M292.6 757V754.3M294.2 757V752.1M295.8 757V750.2M299.0 757V753.5M300.6 757V750.5M302.2 757V752.4M303.8 757V749.3M305.4 757V732.8M307.0 757V754.1M310.2 757V754.1M316.7 757V754.7M319.9 757V754.3M323.1 757V753.2M324.7 757V753.6M326.3 757V752.2M331.1 757V752.8M334.4 757V741.2M339.2 757V754.2M340.8 757V754.0M344.0 757V747.2M345.6 757V753.0M355.2 757V753.4M360.1 757V746.0M364.9 757V722.0M374.5 757V753.9M376.1 757V754.7M377.8 757V753.7M381.0 757V750.5M384.2 757V754.1M390.6 757V754.0M393.8 757V752.1M395.4 757V754.1M397.0 757V754.9M398.7 757V746.4M400.3 757V751.5M401.9 757V753.5M409.9 757V749.1M413.1 757V748.0M422.8 757V745.1M427.6 757V754.7M430.8 757V754.7M435.6 757V751.8M437.2 757V753.6M438.8 757V753.0M440.4 757V738.0M442.1 757V753.8M446.9 757V750.7M451.7 757V750.8M463.0 757V753.7M464.6 757V755.3M466.2 757V754.6M467.8 757V753.1M472.6 757V754.1M474.2 757V749.8M475.8 757V753.8M485.5 757V754.0M488.7 757V746.7M491.9 757V753.5M496.7 757V752.4M498.3 757V753.6M501.5 757V752.7M503.1 757V755.1M506.4 757V752.3M508.0 757V754.0M509.6 757V751.6M512.8 757V754.5M514.4 757V752.1M516.0 757V753.8M517.6 757V753.9M519.2 757V738.0M524.0 757V750.9M528.9 757V752.2M536.9 757V749.1M540.1 757V752.7M546.5 757V754.1M548.2 757V754.2M549.8 757V754.9M551.4 757V752.0M557.8 757V754.8M559.4 757V753.4M562.6 757V751.8M564.2 757V753.2M565.8 757V754.5M567.4 757V752.6M570.7 757V754.5M572.3 757V753.1M573.9 757V753.3M575.5 757V742.0M577.1 757V752.5M580.3 757V753.3M583.5 757V749.9M585.1 757V751.0M586.7 757V742.0M589.9 757V748.6M591.6 757V753.0M596.4 757V752.2M598.0 757V752.7M599.6 757V752.8M601.2 757V737.0M602.8 757V737.0M604.4 757V754.1M610.8 757V754.8M614.1 757V754.1M617.3 757V754.8M618.9 757V754.8M625.3 757V750.6M628.5 757V753.6M631.7 757V751.7M633.3 757V753.3M635.0 757V745.0M639.8 757V753.6M641.4 757V752.3M643.0 757V753.8M646.2 757V751.0M652.6 757V754.6M654.2 757V751.7M655.9 757V755.2M659.1 757V754.2M662.3 757V751.5M663.9 757V751.8M673.5 757V754.8M676.8 757V753.9M678.4 757V697.6M683.2 757V752.5M686.4 757V750.4M688.0 757V753.9M689.6 757V751.3M692.8 757V754.3M694.4 757V755.0M697.6 757V755.0M699.3 757V752.8M700.9 757V749.7M704.1 757V751.8M708.9 757V753.5M710.5 757V742.0M713.7 757V754.5M715.3 757V742.0M716.9 757V749.4M723.4 757V746.5M725.0 757V752.1M726.6 757V751.9M728.2 757V745.8M731.4 757V752.7M733.0 757V752.8M734.6 757V751.1M736.2 757V751.9M742.7 757V747.4M750.7 757V752.2M752.3 757V754.5M755.5 757V754.9M757.1 757V753.1M765.2 757V753.3M766.8 757V752.5M768.4 757V753.8M770.0 757V751.8M771.6 757V753.9M774.8 757V747.0M778.0 757V752.9M782.8 757V754.4M787.7 757V754.3M795.7 757V753.1M797.3 757V753.1M802.1 757V751.4M803.7 757V752.9M805.4 757V750.3M811.8 757V751.3M815.0 757V754.9M818.2 757V754.6M819.8 757V745.2M821.4 757V754.3M831.1 757V754.1M832.7 757V753.3M834.3 757V755.3M835.9 757V755.1M839.1 757V754.7M840.7 757V755.2M842.3 757V752.1M853.6 757V745.0M856.8 757V754.2M858.4 757V751.3" stroke="#ef5350" stroke-width="1.2" stroke-opacity="0.28"/>
<path d="M503 129.7H1531M587 287.1H1531M760 380.3H1531M10 624.7H1531" stroke="#a89c36" stroke-width="2"/><path d="M10 418.5H1531M10 559.0H1531" stroke="#eef0f4" stroke-width="1.4"/><path d="M10 310.3H1531" stroke="#ef5350" stroke-width="1.2" stroke-opacity="0.55" stroke-dasharray="2 1.3"/>
<path d="M518 129.8H568" stroke="#f2261c" stroke-width="2"/><path d="M783 380.4H843" stroke="#ff7a12" stroke-width="2"/>
<g font-family="Liberation Sans, DejaVu Sans, sans-serif" font-size="16.4" letter-spacing="0.35" fill="#b7bac2" stroke="#b7bac2" stroke-width="0.25"><text x="1542.5" y="99.8">29200.0</text><text x="1542.5" y="147.4">28800.0</text><text x="1542.5" y="195.0">28400.0</text><text x="1542.5" y="242.6">28000.0</text><text x="1542.5" y="290.1">27600.0</text><text x="1542.5" y="337.7">27200.0</text><text x="1542.5" y="385.3">26800.0</text><text x="1542.5" y="432.9">26400.0</text><text x="1542.5" y="480.5">26000.0</text><text x="1542.5" y="528.1">25600.0</text><text x="1542.5" y="575.6">25200.0</text><text x="1542.5" y="623.2">24800.0</text><text x="1542.5" y="670.8">24400.0</text><text x="1542.5" y="716.8">50K</text><text x="27.3" y="779.9" text-anchor="middle">24</text><text x="143.1" y="779.9" text-anchor="middle">27</text><text x="297.4" y="779.9" text-anchor="middle" font-weight="bold">Май</text><text x="413.1" y="779.9" text-anchor="middle">4</text><text x="567.4" y="779.9" text-anchor="middle">8</text><text x="683.2" y="779.9" text-anchor="middle">11</text><text x="837.5" y="779.9" text-anchor="middle">15</text><text x="953.2" y="779.9" text-anchor="middle">18</text><text x="1107.6" y="779.9" text-anchor="middle">22</text><text x="1223.3" y="779.9" text-anchor="middle">25</text><text x="1377.6" y="779.9" text-anchor="middle">29</text><text x="1493.4" y="779.9" text-anchor="middle" font-weight="bold">Июн</text></g>
<g font-family="Liberation Sans, DejaVu Sans, sans-serif" font-size="16.4" letter-spacing="0.35"><text x="1540.5" y="47.8" fill="#b7bac2" stroke="#b7bac2" stroke-width="0.25">USDT</text><rect x="1531" y="118.3" width="80" height="22" rx="2" fill="#f8e432"/><text x="1542.5" y="135.1" fill="#131722" stroke="#131722" stroke-width="0.25">28903.1</text><rect x="1531" y="275.7" width="80" height="22" rx="2" fill="#f8e432"/><text x="1542.5" y="292.5" fill="#131722" stroke="#131722" stroke-width="0.25">27580.0</text><rect x="1531" y="368.9" width="80" height="22" rx="2" fill="#f8e432"/><text x="1542.5" y="385.7" fill="#131722" stroke="#131722" stroke-width="0.25">26796.7</text><rect x="1531" y="407.2" width="80" height="22" rx="2" fill="#ffffff"/><text x="1542.5" y="424.0" fill="#131722" stroke="#131722" stroke-width="0.25">26474.3</text><rect x="1531" y="547.7" width="80" height="22" rx="2" fill="#ffffff"/><text x="1542.5" y="564.5" fill="#131722" stroke="#131722" stroke-width="0.25">25293.7</text><rect x="1531" y="613.2" width="80" height="22" rx="2" fill="#f8e432"/><text x="1542.5" y="630.0" fill="#131722" stroke="#131722" stroke-width="0.25">24743.0</text><rect x="1531" y="299" width="80" height="41" rx="2" fill="#f0525a"/><g fill="#ffffff" stroke="#ffffff" stroke-width="0.2"><text x="1542.5" y="316.2">27381.7</text><text x="1542.5" y="334.2">29:47</text></g><rect x="1531" y="736" width="70.5" height="21" rx="2" fill="#f0525a"/><text x="1542.5" y="752.3" fill="#ffffff" stroke="#ffffff" stroke-width="0.2">2.374K</text></g>
<text y="46.7" font-family="Liberation Sans, DejaVu Sans, sans-serif" font-size="11.9" fill="#b7bac2" stroke="#b7bac2" stroke-width="0.2"><tspan x="18.4" textLength="225.1" lengthAdjust="spacingAndGlyphs">BTCUSDT Perpetual Contract, 1Ч, BYBIT</tspan><tspan x="251.4" textLength="31.5" lengthAdjust="spacingAndGlyphs">ОТКР</tspan><tspan x="283.3" textLength="44.7" lengthAdjust="spacingAndGlyphs" fill="#ef5350" stroke="#ef5350">27424.2</tspan><tspan x="336" textLength="34.2" lengthAdjust="spacingAndGlyphs">МАКС</tspan><tspan x="370.7" textLength="43.9" lengthAdjust="spacingAndGlyphs" fill="#ef5350" stroke="#ef5350">27474.0</tspan><tspan x="421.9" textLength="28.2" lengthAdjust="spacingAndGlyphs">МИН</tspan><tspan x="450.6" textLength="45.1" lengthAdjust="spacingAndGlyphs" fill="#ef5350" stroke="#ef5350">27356.0</tspan><tspan x="503" textLength="31" lengthAdjust="spacingAndGlyphs">ЗАКР</tspan><tspan x="534.5" textLength="42.5" lengthAdjust="spacingAndGlyphs" fill="#ef5350" stroke="#ef5350">27381.7</tspan><tspan x="585" textLength="85.3" lengthAdjust="spacingAndGlyphs" fill="#ef5350" stroke="#ef5350">−42.5 (−0.15%)</tspan></text>
<text y="696.8" font-family="Liberation Sans, DejaVu Sans, sans-serif" font-size="11.9" fill="#b7bac2" stroke="#b7bac2" stroke-width="0.2"><tspan x="18.4" textLength="71.8" lengthAdjust="spacingAndGlyphs">Объём · BTC</tspan><tspan x="97.6" textLength="38.4" lengthAdjust="spacingAndGlyphs" fill="#ef5350" stroke="#ef5350">2.374K</tspan></text>
<text x="10.4" y="19.8" font-family="Liberation Sans, DejaVu Sans, sans-serif" font-size="12.3" fill="#cdd0d6" textLength="425.2" lengthAdjust="spacingAndGlyphs" stroke="#cdd0d6" stroke-width="0.3">crypto_lis опубликовал(а) на TradingView.com, Май 15, 2023 13:30 UTC+4</text>
<g fill="#e6e7ea"><path d="M9.7 805.1H17.5V814.6H13.8V808.8H9.7Z"/><circle cx="20.7" cy="807.4" r="1.65"/><path d="M24.4 805.1H28.8L25.2 814.6H20.8Z"/></g>
<text x="34.4" y="815.7" font-family="Liberation Sans, DejaVu Sans, sans-serif" font-size="12.9" fill="#e6e7ea" stroke="#e6e7ea" stroke-width="0.35" textLength="71.8" lengthAdjust="spacingAndGlyphs">TradingView</text></svg></body></html>
